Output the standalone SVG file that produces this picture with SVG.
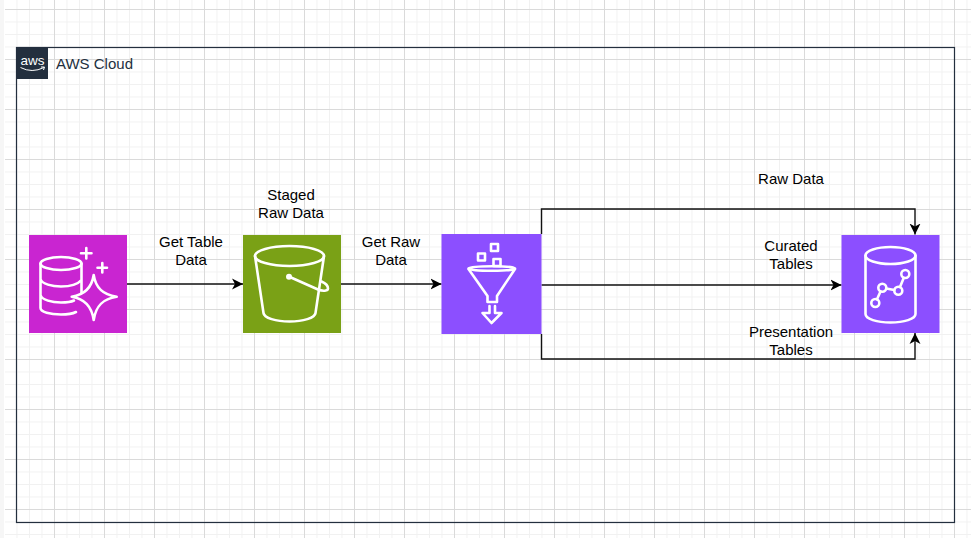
<svg xmlns="http://www.w3.org/2000/svg" width="971" height="538" viewBox="0 0 971 538">
<style>
text{font-family:"Liberation Sans",Arial,sans-serif;font-size:15px;fill:#000;text-anchor:middle}
.ic{fill:none;stroke:#fff;stroke-width:2.6;stroke-linejoin:round;stroke-linecap:round}
.c{fill:none;stroke:#111;stroke-width:1.4}
</style>
<defs>
<marker id="a" markerUnits="userSpaceOnUse" markerWidth="13" markerHeight="13" refX="11" refY="6.500" orient="auto"><path d="M0 1L11 6.500L0 12L3 6.500Z" fill="#000"/></marker>
<pattern id="mn" width="12.5" height="12.5" patternUnits="userSpaceOnUse" x="4" y="9"><path d="M0 .5H12.5M.5 0V12.5" fill="none" stroke="#f1f1f1" stroke-width="1"/></pattern>
<pattern id="mj" width="50" height="50" patternUnits="userSpaceOnUse" x="4" y="9"><path d="M0 .5H50M.5 0V50" fill="none" stroke="#dadada" stroke-width="1"/></pattern>
</defs>
<rect width="971" height="538" fill="#fff"/>
<rect x="0" y="0" width="4" height="538" fill="#f6f6f6"/>
<rect x="5" y="0" width="966" height="538" fill="url(#mn)"/>
<rect x="5" y="0" width="966" height="538" fill="url(#mj)"/>
<g id="aws-cloud">
<rect x="16.5" y="47.5" width="938" height="475" fill="none" stroke="#232f3e" stroke-width="1.2"/>
<rect x="16.5" y="47.5" width="31.5" height="31.5" fill="#232f3e"/>
<text x="32.500" y="65" style="font-size:13.500px;fill:#fff">aws</text>
<path d="M20.500 67.500Q32 73.500 44 67.500M41 67L44.500 67L43.500 70" fill="none" stroke="#fff" stroke-width="1"/>
<text x="56" y="69" style="text-anchor:start;fill:#232f3e">AWS Cloud</text>
</g>
<g id="connectors">
<path class="c" d="M127 284H243" marker-end="url(#a)"/>
<path class="c" d="M341 284H441.500" marker-end="url(#a)"/>
<path class="c" d="M541.500 234V209H915V234.500" marker-end="url(#a)"/>
<path class="c" d="M541.500 285H841.500" marker-end="url(#a)"/>
<path class="c" d="M541.500 334V359H915V333" marker-end="url(#a)"/>
</g>
<g id="aurora">
<rect x="29" y="235" width="98" height="98" fill="#c925d1"/>
<ellipse class="ic" cx="61" cy="263.500" rx="20.500" ry="6.500"/>
<path class="ic" d="M40.500 263.500V308C40.500 312 50 314.500 61 314.500C67 314.500 73 313.500 76 312M81.500 263.500V293M40.500 279C42 284 52 286.500 61 286.500C70 286.500 78 284 81.500 280M40.500 295C42 300 52 302.500 61 302.500C66 302.500 71 302 74 300.500"/>
<path class="ic" d="M93.700 275C95.700 288 102.700 294.700 116.700 296.700C102.700 298.700 95.700 306 93.700 320C91.700 306 84.700 298.700 71.700 296.700C84.700 294.700 91.700 288 93.700 275Z"/>
<path class="ic" d="M86.300 248V258.500M81 253.300H91.500M102.300 263V272.500M97.500 267.700H107"/>
</g>
<g id="s3-bucket">
<rect x="243" y="235" width="98" height="98" fill="#7aa116"/>
<ellipse class="ic" cx="289.500" cy="256" rx="34.500" ry="10"/>
<path class="ic" d="M255 256L263.500 313C264 318 276 321.500 289.500 321.500C303 321.500 315 318 315.500 313L324 256"/>
<circle cx="289" cy="276.700" r="3" fill="#fff"/>
<path class="ic" d="M291 277.500L318 289.500C323 291.500 328 291 328 288.500C328 286 325 283 321.500 281.500"/>
</g>
<g id="glue">
<rect x="441.500" y="234" width="100" height="100" fill="#8c4fff"/>
<path class="ic" d="M468.500 268.500C472 265.500 512 265.500 515 268.500C512 271.500 472 271.500 468.500 268.500ZM468.500 269L487.500 296V302H497V296L515 269"/>
<path class="ic" d="M489.500 306V313H482.500L491.500 323L501.500 313H495V306"/>
<rect class="ic" x="478" y="253.500" width="7" height="7"/><rect class="ic" x="491" y="244" width="7" height="7"/><rect class="ic" x="493.500" y="259" width="7" height="7"/>
</g>
<g id="timestream">
<rect x="841.500" y="235" width="98" height="98" fill="#8c4fff"/>
<ellipse class="ic" cx="890.500" cy="255.500" rx="25" ry="8.500"/>
<path class="ic" d="M865.500 255.500V314C865.500 319 877 322.500 890.500 322.500C904 322.500 915.500 319 915.500 314V255.500"/>
<circle class="ic" cx="875.300" cy="303" r="4"/><circle class="ic" cx="882.300" cy="287.700" r="4"/><circle class="ic" cx="898.300" cy="290.700" r="4"/><circle class="ic" cx="905.300" cy="274" r="4"/>
<path class="ic" d="M877 299.300L880.500 291.500M886.300 288.500L894.300 290M900 287L903.700 278"/>
</g>
<g id="labels">
<text x="191" y="247">Get Table</text><text x="191" y="265">Data</text>
<text x="291" y="200">Staged</text><text x="291" y="218">Raw Data</text>
<text x="391" y="247">Get Raw</text><text x="391" y="265">Data</text>
<text x="791" y="184">Raw Data</text>
<text x="791" y="251">Curated</text><text x="791" y="269">Tables</text>
<text x="791" y="337">Presentation</text><text x="791" y="355">Tables</text>
</g>
</svg>
